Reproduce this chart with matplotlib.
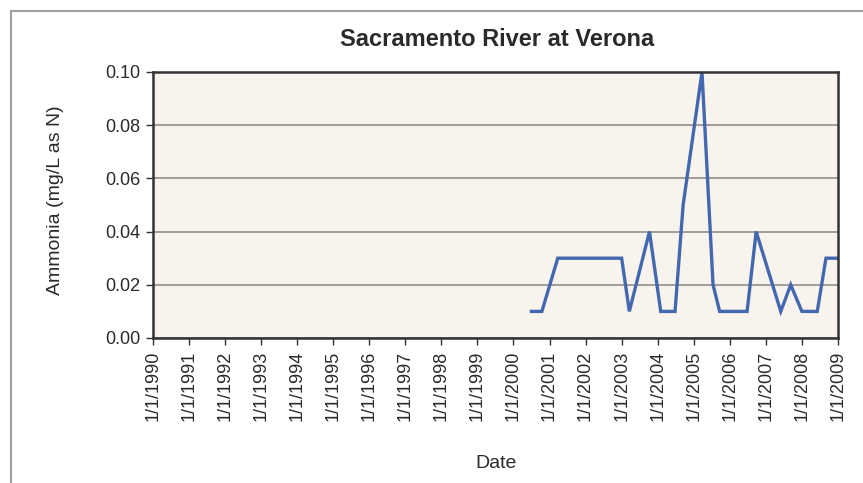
# Ammonia at Sacramento River, Verona - line chart
import datetime as dt
import matplotlib
matplotlib.use("Agg")
import matplotlib.pyplot as plt
from matplotlib.patches import Rectangle

plt.rcParams['font.family'] = ['Liberation Sans', 'DejaVu Sans']

# data
sample_dates = ["2000-07-01", "2000-10-15", "2001-03-25", "2003-01-01", "2003-03-20",
                "2003-10-10", "2004-02-01", "2004-06-25", "2004-09-15", "2005-03-25",
                "2005-07-15", "2005-09-20", "2006-06-25", "2006-09-25", "2007-06-01",
                "2007-09-10", "2008-01-01", "2008-06-05", "2008-09-01", "2009-01-01"]
ammonia = [0.01, 0.01, 0.03, 0.03, 0.01,
           0.04, 0.01, 0.01, 0.05, 0.10,
           0.02, 0.01, 0.01, 0.04, 0.01,
           0.02, 0.01, 0.01, 0.03, 0.03]
tick_years = list(range(1990, 2010))
tick_labels = ["1/1/%d" % y for y in tick_years]
y_ticks = [0.00, 0.02, 0.04, 0.06, 0.08, 0.10]

dates = [dt.datetime.strptime(d, "%Y-%m-%d") for d in sample_dates]
tick_dates = [dt.datetime(y, 1, 1) for y in tick_years]

W, H = 863, 483
fig = plt.figure(figsize=(W / 100, H / 100), dpi=100)
fig.patch.set_facecolor("white")

# grey frame around the chart (right/bottom edges off the image)
fig.patches.append(Rectangle((11 / W, -0.2), 1.2, (H - 11) / H + 0.2,
                             transform=fig.transFigure, fill=False,
                             edgecolor="#a0a0a0", lw=1.5))

ax = fig.add_axes([153 / W, 1 - 338 / H, (838 - 153) / W, (338 - 72) / H])
ax.set_facecolor("#f8f4ed")

ax.plot(dates, ammonia, color="#4468b0", lw=2.4, solid_joinstyle="miter")

ax.set_xlim(tick_dates[0], tick_dates[-1])
ax.set_ylim(0, 0.10)
ax.set_xticks(tick_dates)
ax.set_xticklabels(tick_labels, rotation=90, fontsize=13, color="#2a2a2a")
ax.set_yticks(y_ticks)
ax.set_yticklabels(["%.2f" % v for v in y_ticks], fontsize=13, color="#2a2a2a")
ax.tick_params(axis="both", direction="out", length=5, width=1, color="#333333", pad=4)

ax.grid(axis="y", color="#8a8580", lw=1.1)
ax.set_axisbelow(True)
for s in ax.spines.values():
    s.set_color("#333333")
    s.set_linewidth(1.8)

fig.text(497 / W, 1 - 40 / H, "Sacramento River at Verona", ha="center", va="center",
         fontsize=17, fontweight="bold", color="#2a2a2a")
fig.text(56 / W, 1 - 200 / H, "Ammonia (mg/L as N)", rotation=90, ha="center",
         va="center", fontsize=14, color="#2a2a2a")
fig.text(496 / W, 1 - 463 / H, "Date", ha="center", va="center",
         fontsize=14, color="#2a2a2a")

fig.savefig("out.png", dpi=100)
